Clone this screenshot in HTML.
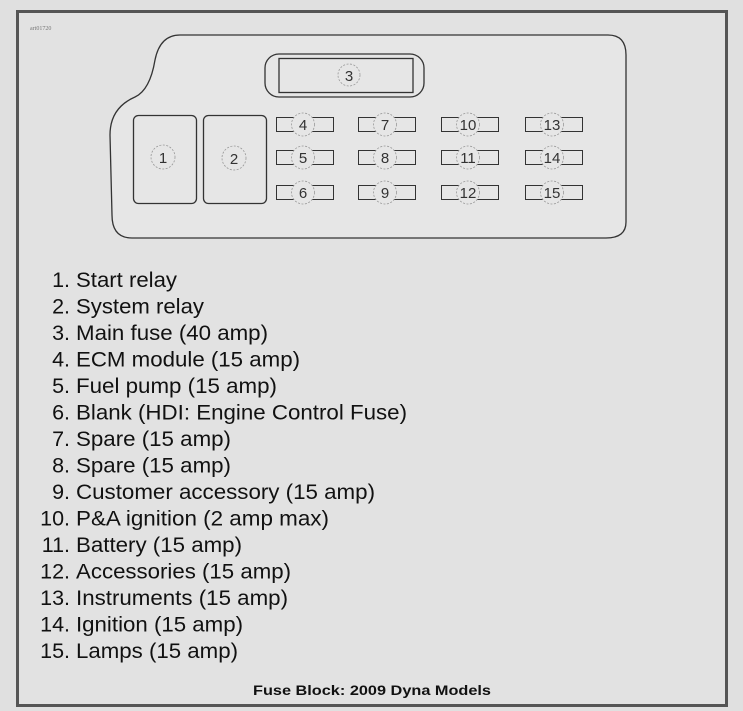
<!DOCTYPE html>
<html><head><meta charset="utf-8"><style>
html,body{margin:0;padding:0;background:#e0e0e0;}
body{width:743px;height:711px;overflow:hidden;position:relative;font-family:"Liberation Sans",Arial,sans-serif;}
</style></head><body>
<svg width="743" height="711" xmlns="http://www.w3.org/2000/svg" style="position:absolute;left:0;top:0" font-family="Liberation Sans, Arial, sans-serif">
<rect x="0" y="0" width="743" height="711" fill="#e0e0e0"/>
<rect x="17.5" y="11.5" width="709" height="694" fill="#e2e2e2" stroke="#555" stroke-width="3"/>
<text x="30" y="30" font-size="6" fill="#777" font-family="Liberation Serif,serif">art01720</text>
<path d="M180,35 L608,35 Q626,35 626,55 L626,222 Q626,238 606,238 L132,238 Q112,238 112,215 L110,135 Q110,108 135,97 Q150,90 155,60 Q160,35 180,35 Z" fill="#e6e6e6" stroke="#333" stroke-width="1.3"/>
<rect x="265" y="54" width="159" height="43" rx="14" fill="none" stroke="#333" stroke-width="1.3"/>
<rect x="279" y="58.5" width="134" height="34" fill="none" stroke="#333" stroke-width="1.3"/>
<circle cx="349" cy="75" r="11" fill="#e6e6e6" stroke="#999" stroke-dasharray="2,1.5" stroke-width="0.8"/>
<text x="349" y="81" font-size="15" text-anchor="middle" fill="#333">3</text>
<rect x="133.5" y="115.5" width="63" height="88" rx="5" fill="none" stroke="#333" stroke-width="1.3"/>
<rect x="203.5" y="115.5" width="63" height="88" rx="5" fill="none" stroke="#333" stroke-width="1.3"/>
<circle cx="163" cy="157" r="12" fill="none" stroke="#999" stroke-dasharray="2,1.5" stroke-width="0.8"/>
<text x="163" y="163" font-size="15" text-anchor="middle" fill="#333">1</text>
<circle cx="234" cy="158" r="12" fill="none" stroke="#999" stroke-dasharray="2,1.5" stroke-width="0.8"/>
<text x="234" y="164" font-size="15" text-anchor="middle" fill="#333">2</text>
<g font-size="15" text-anchor="middle" fill="#333">
<g transform="translate(276,117)"><rect x="0.5" y="0.5" width="57" height="14" fill="none" stroke="#333"/><circle cx="27" cy="7.5" r="11.5" fill="#e6e6e6" stroke="#999" stroke-dasharray="2,1.5" stroke-width="0.8"/><text x="27" y="13">4</text></g>
<g transform="translate(276,150)"><rect x="0.5" y="0.5" width="57" height="14" fill="none" stroke="#333"/><circle cx="27" cy="7.5" r="11.5" fill="#e6e6e6" stroke="#999" stroke-dasharray="2,1.5" stroke-width="0.8"/><text x="27" y="13">5</text></g>
<g transform="translate(276,185)"><rect x="0.5" y="0.5" width="57" height="14" fill="none" stroke="#333"/><circle cx="27" cy="7.5" r="11.5" fill="#e6e6e6" stroke="#999" stroke-dasharray="2,1.5" stroke-width="0.8"/><text x="27" y="13">6</text></g>
<g transform="translate(358,117)"><rect x="0.5" y="0.5" width="57" height="14" fill="none" stroke="#333"/><circle cx="27" cy="7.5" r="11.5" fill="#e6e6e6" stroke="#999" stroke-dasharray="2,1.5" stroke-width="0.8"/><text x="27" y="13">7</text></g>
<g transform="translate(358,150)"><rect x="0.5" y="0.5" width="57" height="14" fill="none" stroke="#333"/><circle cx="27" cy="7.5" r="11.5" fill="#e6e6e6" stroke="#999" stroke-dasharray="2,1.5" stroke-width="0.8"/><text x="27" y="13">8</text></g>
<g transform="translate(358,185)"><rect x="0.5" y="0.5" width="57" height="14" fill="none" stroke="#333"/><circle cx="27" cy="7.5" r="11.5" fill="#e6e6e6" stroke="#999" stroke-dasharray="2,1.5" stroke-width="0.8"/><text x="27" y="13">9</text></g>
<g transform="translate(441,117)"><rect x="0.5" y="0.5" width="57" height="14" fill="none" stroke="#333"/><circle cx="27" cy="7.5" r="11.5" fill="#e6e6e6" stroke="#999" stroke-dasharray="2,1.5" stroke-width="0.8"/><text x="27" y="13">10</text></g>
<g transform="translate(441,150)"><rect x="0.5" y="0.5" width="57" height="14" fill="none" stroke="#333"/><circle cx="27" cy="7.5" r="11.5" fill="#e6e6e6" stroke="#999" stroke-dasharray="2,1.5" stroke-width="0.8"/><text x="27" y="13">11</text></g>
<g transform="translate(441,185)"><rect x="0.5" y="0.5" width="57" height="14" fill="none" stroke="#333"/><circle cx="27" cy="7.5" r="11.5" fill="#e6e6e6" stroke="#999" stroke-dasharray="2,1.5" stroke-width="0.8"/><text x="27" y="13">12</text></g>
<g transform="translate(525,117)"><rect x="0.5" y="0.5" width="57" height="14" fill="none" stroke="#333"/><circle cx="27" cy="7.5" r="11.5" fill="#e6e6e6" stroke="#999" stroke-dasharray="2,1.5" stroke-width="0.8"/><text x="27" y="13">13</text></g>
<g transform="translate(525,150)"><rect x="0.5" y="0.5" width="57" height="14" fill="none" stroke="#333"/><circle cx="27" cy="7.5" r="11.5" fill="#e6e6e6" stroke="#999" stroke-dasharray="2,1.5" stroke-width="0.8"/><text x="27" y="13">14</text></g>
<g transform="translate(525,185)"><rect x="0.5" y="0.5" width="57" height="14" fill="none" stroke="#333"/><circle cx="27" cy="7.5" r="11.5" fill="#e6e6e6" stroke="#999" stroke-dasharray="2,1.5" stroke-width="0.8"/><text x="27" y="13">15</text></g>
</g>
<g font-size="21.5" fill="#111" lengthAdjust="spacingAndGlyphs">
<text x="70" y="287" text-anchor="end">1.</text><text x="76" y="287" textLength="101" lengthAdjust="spacingAndGlyphs">Start relay</text>
<text x="70" y="313.5" text-anchor="end">2.</text><text x="76" y="313.5" textLength="128" lengthAdjust="spacingAndGlyphs">System relay</text>
<text x="70" y="340" text-anchor="end">3.</text><text x="76" y="340" textLength="192" lengthAdjust="spacingAndGlyphs">Main fuse (40 amp)</text>
<text x="70" y="366.5" text-anchor="end">4.</text><text x="76" y="366.5" textLength="224" lengthAdjust="spacingAndGlyphs">ECM module (15 amp)</text>
<text x="70" y="393" text-anchor="end">5.</text><text x="76" y="393" textLength="201" lengthAdjust="spacingAndGlyphs">Fuel pump (15 amp)</text>
<text x="70" y="419.5" text-anchor="end">6.</text><text x="76" y="419.5" textLength="331" lengthAdjust="spacingAndGlyphs">Blank (HDI: Engine Control Fuse)</text>
<text x="70" y="446" text-anchor="end">7.</text><text x="76" y="446" textLength="155" lengthAdjust="spacingAndGlyphs">Spare (15 amp)</text>
<text x="70" y="472.5" text-anchor="end">8.</text><text x="76" y="472.5" textLength="155" lengthAdjust="spacingAndGlyphs">Spare (15 amp)</text>
<text x="70" y="499" text-anchor="end">9.</text><text x="76" y="499" textLength="299" lengthAdjust="spacingAndGlyphs">Customer accessory (15 amp)</text>
<text x="70" y="525.5" text-anchor="end">10.</text><text x="76" y="525.5" textLength="253" lengthAdjust="spacingAndGlyphs">P&amp;A ignition (2 amp max)</text>
<text x="70" y="552" text-anchor="end">11.</text><text x="76" y="552" textLength="166" lengthAdjust="spacingAndGlyphs">Battery (15 amp)</text>
<text x="70" y="578.5" text-anchor="end">12.</text><text x="76" y="578.5" textLength="215" lengthAdjust="spacingAndGlyphs">Accessories (15 amp)</text>
<text x="70" y="605" text-anchor="end">13.</text><text x="76" y="605" textLength="212" lengthAdjust="spacingAndGlyphs">Instruments (15 amp)</text>
<text x="70" y="631.5" text-anchor="end">14.</text><text x="76" y="631.5" textLength="167" lengthAdjust="spacingAndGlyphs">Ignition (15 amp)</text>
<text x="70" y="658" text-anchor="end">15.</text><text x="76" y="658" textLength="162" lengthAdjust="spacingAndGlyphs">Lamps (15 amp)</text>
</g>
<text x="372" y="695" font-size="13.5" font-weight="bold" text-anchor="middle" fill="#111" textLength="238" lengthAdjust="spacingAndGlyphs">Fuse Block: 2009 Dyna Models</text>
</svg>
</body></html>
